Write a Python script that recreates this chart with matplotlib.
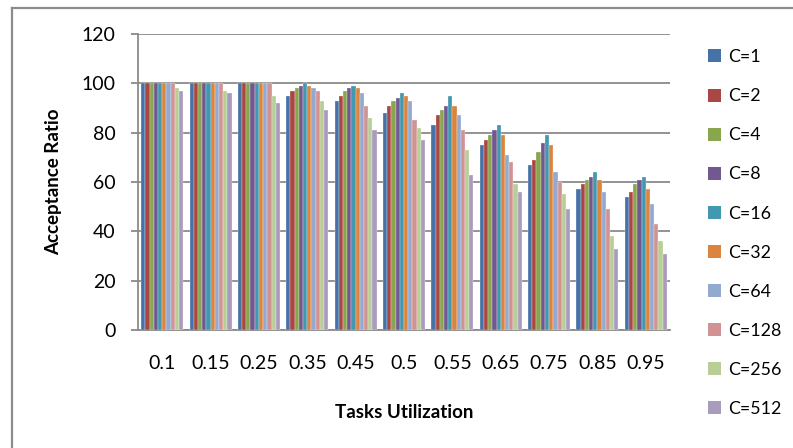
import matplotlib.pyplot as plt
import numpy as np
from matplotlib.lines import Line2D
from matplotlib.patches import Patch

plt.rcParams['font.family'] = ['Lato', 'DejaVu Sans']

utilization = ['0.1', '0.15', '0.25', '0.35', '0.45', '0.5', '0.55', '0.65', '0.75', '0.85', '0.95']
series_names = ['C=1', 'C=2', 'C=4', 'C=8', 'C=16', 'C=32', 'C=64', 'C=128', 'C=256', 'C=512']

c1 = [100, 100, 100, 95, 93, 88, 83, 75, 67, 57, 54]
c2 = [100, 100, 100, 97, 95, 91, 87, 77, 69, 59, 56]
c4 = [100, 100, 100, 98, 97, 93, 89, 79, 72, 61, 59]
c8 = [100, 100, 100, 99, 98, 94, 91, 81, 76, 62, 61]
c16 = [100, 100, 100, 100, 99, 96, 95, 83, 79, 64, 62]
c32 = [100, 100, 100, 99, 98, 95, 91, 79, 75, 61, 57]
c64 = [100, 100, 100, 98, 96, 93, 87, 71, 64, 56, 51]
c128 = [100, 100, 100, 97, 91, 85, 81, 68, 60, 49, 43]
c256 = [98, 97, 95, 93, 86, 82, 73, 59, 55, 38, 36]
c512 = [97, 96, 92, 89, 81, 77, 63, 56, 49, 33, 31]
series = [c1, c2, c4, c8, c16, c32, c64, c128, c256, c512]

colors = ['#4572A7', '#AA4643', '#89A54E', '#71588F', '#4198AF',
          '#DB843D', '#93A9CF', '#D19392', '#B9CD96', '#A99BBD']

fig = plt.figure(figsize=(7.93, 4.48), dpi=100)
ax = fig.add_axes([138 / 793, 1 - 330 / 448, 532 / 793, 296 / 448])

x = np.arange(len(utilization))
n = len(series)
w = 0.87 / n
for i, vals in enumerate(series):
    ax.bar(x - 0.435 + w * (i + 0.5), vals, width=w, color=colors[i],
           edgecolor='white', linewidth=0.2, zorder=3, label=series_names[i])

ax.set_xlim(-0.5, len(utilization) - 0.5)
ax.set_ylim(0, 120)
ax.set_yticks(np.arange(0, 121, 20))
ax.set_xticks(x)
ax.set_xticklabels(utilization)
ax.yaxis.grid(True, color='#8a8a8a', linewidth=1.3, zorder=0)
ax.set_axisbelow(True)

for s in ['top', 'right']:
    ax.spines[s].set_visible(False)
for s in ['left', 'bottom']:
    ax.spines[s].set_color('#8a8a8a')
    ax.spines[s].set_linewidth(1.3)

ax.tick_params(axis='y', length=5, color='#8a8a8a', width=1.3, pad=11, labelsize=14)
ax.tick_params(axis='x', length=0, pad=18, labelsize=14)

ax.set_ylabel('Acceptance Ratio', fontsize=13.5, fontweight='bold', labelpad=14)
ax.set_xlabel('Tasks Utilization', fontsize=13.5, fontweight='bold', labelpad=23)

handles = [Patch(facecolor=c, edgecolor='none') for c in colors]
fig.legend(handles, series_names, loc='upper left', bbox_to_anchor=(701 / 793, 1 - 42 / 448),
           frameon=False, fontsize=12.8, handlelength=0.75, handleheight=0.75,
           handletextpad=0.4, labelspacing=1.3, borderaxespad=0)

# outer frame, only left and top edges visible
fig.add_artist(Line2D([12 / 793, 12 / 793], [0, 1 - 8 / 448], color='#8c8c8c', linewidth=1.6))
fig.add_artist(Line2D([12 / 793, 1], [1 - 8 / 448, 1 - 8 / 448], color='#8c8c8c', linewidth=1.6))

fig.savefig('out.png', dpi=100)
